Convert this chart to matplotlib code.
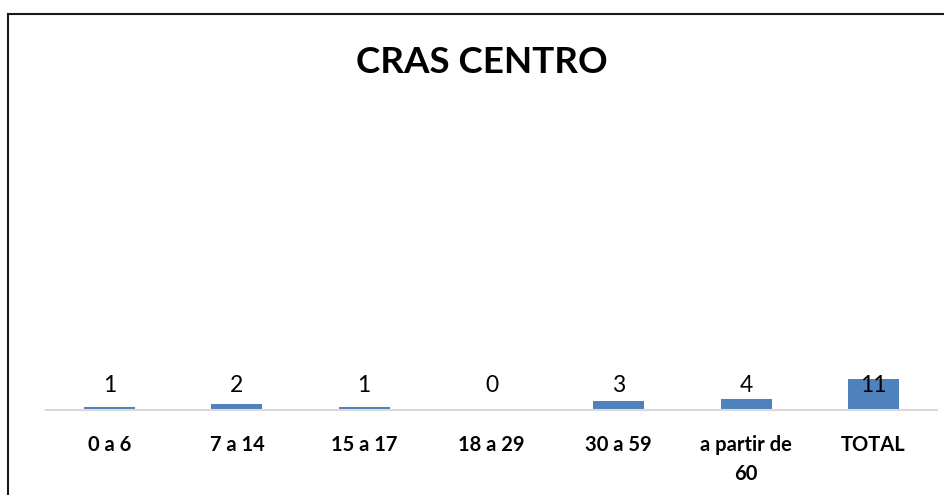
import matplotlib
matplotlib.use("Agg")
import matplotlib.pyplot as plt
from matplotlib.lines import Line2D
from matplotlib import rcParams

rcParams["font.family"] = ["Lato", "DejaVu Sans"]

categories = ["0 a 6", "7 a 14", "15 a 17", "18 a 29", "30 a 59", "a partir de\n60", "TOTAL"]
values = [1, 2, 1, 0, 3, 4, 11]
title = "CRAS CENTRO"

W, H = 944, 495
fig = plt.figure(figsize=(W / 100, H / 100), dpi=100)
fig.set_facecolor("white")

# plot area: baseline at y=410px, x from 46 to 937px
ax = fig.add_axes([46 / W, 1 - 410 / H, (937 - 46) / W, 310 / H])
x = list(range(len(categories)))
ax.bar(x, values, width=0.4, color="#4F81BD", zorder=2)
ax.set_xlim(-0.5, len(categories) - 0.5)
ax.set_ylim(0, 109)

# value labels sit on one line above the baseline
for xi, v in zip(x, values):
    ax.text(xi, 8.6, str(v), ha="center", va="center", fontsize=16.5,
            color="#000000", zorder=3)

ax.set_xticks(x)
ax.set_xticklabels(categories, fontsize=14.5, fontweight="bold",
                   linespacing=1.55, va="top")
ax.tick_params(axis="x", length=0, pad=18)
ax.set_yticks([])
for s in ["top", "right", "left"]:
    ax.spines[s].set_visible(False)
ax.spines["bottom"].set_color("#D9D9D9")
ax.spines["bottom"].set_linewidth(1.5)
ax.set_facecolor("none")

fig.text(482 / W, 1 - 63 / H, title, ha="center", va="center",
         fontsize=26.5, fontweight="bold")

# chart border: only top and left edges are visible
fig.add_artist(Line2D([8 / W, 1], [1 - 14 / H, 1 - 14 / H],
                      transform=fig.transFigure, color="#1a1a1a", lw=1.5))
fig.add_artist(Line2D([8 / W, 8 / W], [1 - 14 / H, 0],
                      transform=fig.transFigure, color="#1a1a1a", lw=1.5))

fig.savefig("out.png", dpi=100)
